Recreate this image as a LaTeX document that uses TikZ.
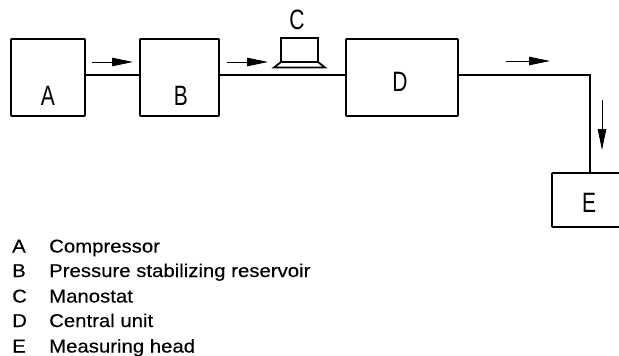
\documentclass[tikz,border=0pt]{standalone}
\usepackage{fontspec}
\setmainfont{Liberation Sans}[FakeStretch=1.1,FakeBold=0.25]
\newfontfamily\diagfont{Liberation Sans}[FakeStretch=0.75]
\usetikzlibrary{arrows.meta}
\tikzset{x=1pt,y=-1pt,
  unitbox/.style={draw,line width=1.7pt,inner sep=0pt,rounded corners=0.6pt},
  pipe/.style={line width=1.7pt},
  flow/.style={line width=0.9pt,-{Triangle[length=21pt,width=8.5pt]}},
  letter/.style={inner sep=0pt,font=\diagfont\fontsize{28}{28}\selectfont,anchor=base},
  legend/.style={inner sep=0pt,font=\fontsize{18.5}{18.5}\selectfont,anchor=base west}}
\begin{document}
\begin{tikzpicture}
\useasboundingbox (0,0) rectangle (619,356);
\fill[white] (0,0) rectangle (619,356);
\node[unitbox,minimum width=74pt,minimum height=77pt] (A) at (48,77.5) {};
\node[unitbox,minimum width=79pt,minimum height=77pt] (B) at (179.5,77.5) {};
\node[unitbox,minimum width=112pt,minimum height=77pt] (D) at (402,77.5) {};
% E is cut off by the right edge of the picture
\coordinate (Ein) at (590,173);
\coordinate (Etr) at (619,173);
\coordinate (Etl) at (552,173);
\coordinate (Ebl) at (552,227);
\coordinate (Ebr) at (619,227);
\draw[line width=1.7pt,rounded corners=0.6pt] (Etr) -- (Etl) -- (Ebl) -- (Ebr);
\coordinate (corner) at (590,75);
\draw[pipe] (A.east |- corner) -- (B.west |- corner);
\draw[pipe] (B.east |- corner) -- (D.west |- corner);
\draw[pipe] (D.east |- corner) -- (corner) -- (Ein);
% manostat
\draw[line width=1.6pt] (281,62) -- (281,38) -- (318,38) -- (318,62);
\draw[line width=1.8pt,line join=miter] (281,62) -- (318,62) -- (325,67.5) -- (274,67.5) -- cycle;
% flow arrows
\coordinate (f1a) at (92,62); \coordinate (f1b) at (133,62);
\coordinate (f2a) at (227,62); \coordinate (f2b) at (268,62);
\coordinate (f3a) at (506,61); \coordinate (f3b) at (550,61);
\coordinate (f4a) at (602,100); \coordinate (f4b) at (602,150);
\draw[flow] (f1a) -- (f1b);
\draw[flow] (f2a) -- (f2b);
\draw[flow] (f3a) -- (f3b);
\draw[flow] (f4a) -- (f4b);
% letters
\node[letter] (la) at (48,105) {A};
\node[letter] (lb) at (181,105) {B};
\node[letter] (lc) at (297,30) {C};
\node[letter] (ld) at (400,91) {D};
\node[letter] (le) at (589,212) {E};
% legend
\node[legend] (k1) at (12,252.5) {A};
\node[legend] (t1) at (49,252.5) {Compressor};
\node[legend] (k2) at (12,277) {B};
\node[legend] (t2) at (49,277) {Pressure stabilizing reservoir};
\node[legend] (k3) at (12,302.5) {C};
\node[legend] (t3) at (49,302.5) {Manostat};
\node[legend] (k4) at (12,327) {D};
\node[legend] (t4) at (49,327) {Central unit};
\node[legend] (k5) at (12,352.5) {E};
\node[legend] (t5) at (49,352.5) {Measuring head};
\end{tikzpicture}
\end{document}
